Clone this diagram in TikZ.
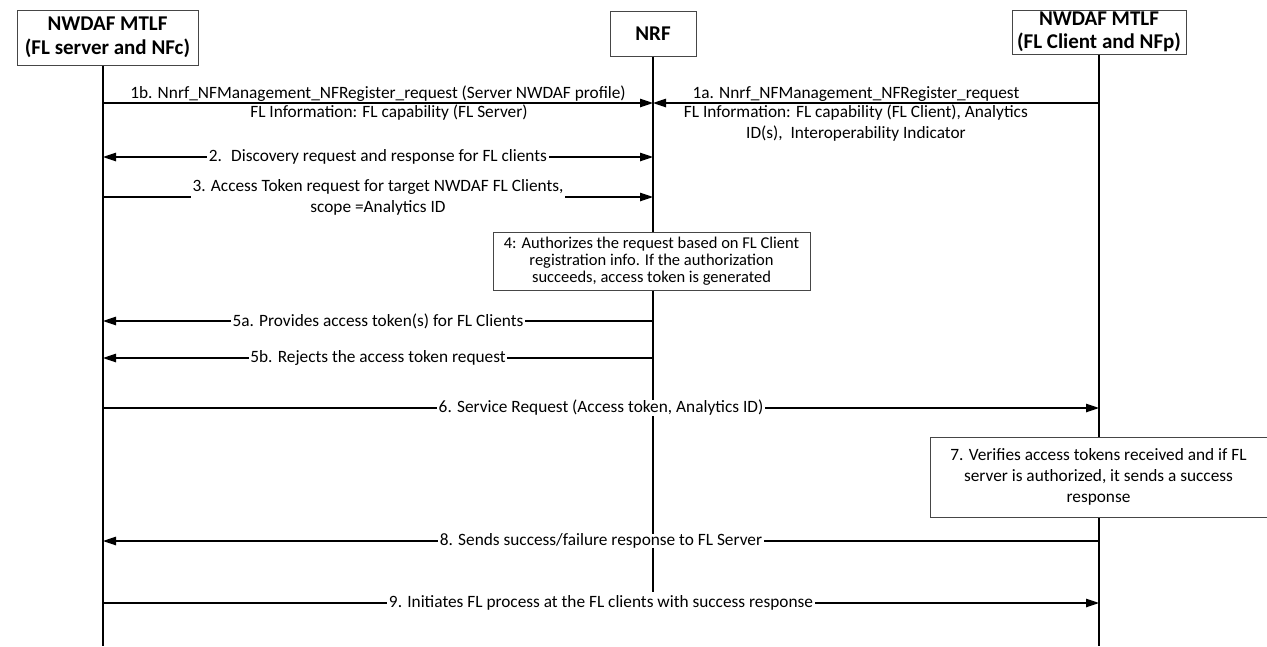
\documentclass[tikz,border=0pt]{standalone}
\usepackage{fontspec}
\setmainfont{Carlito}
\usetikzlibrary{arrows.meta}
\definecolor{boxgray}{RGB}{70,70,70}
\begin{document}
\begin{tikzpicture}[x=1pt,y=-1pt,
  head/.style={draw=boxgray, line width=1pt, fill=white, align=center,
    font=\fontsize{21}{23.5}\selectfont\bfseries, inner sep=0pt},
  life/.style={line width=1.2pt},
  msg/.style={line width=1.2pt, -{Triangle[length=13pt,width=8.5pt]}},
  bmsg/.style={line width=1.2pt, {Triangle[length=13pt,width=8.5pt]}-{Triangle[length=13pt,width=8.5pt]}},
  lbl/.style={font=\fontsize{17.3}{21}\selectfont, fill=white, inner xsep=1.5pt, inner ysep=0pt, align=center},
  tx/.style={font=\fontsize{17.3}{21}\selectfont, inner sep=1.2pt, align=center},
  note/.style={draw=boxgray, line width=1pt, fill=white, align=center, inner sep=0pt}
]
\useasboundingbox (0,0) rectangle (1267,646);

% headers
\node[head, minimum width=181pt, minimum height=55pt] (hL) at (107.5,37.5) {NWDAF MTLF\\(FL server and NFc)};
\node[head, minimum width=86pt, minimum height=45pt] (hN) at (653,33.5) {NRF};
\node[head, minimum width=174pt, minimum height=44pt] (hR) at (1099,32) {NWDAF MTLF\\(FL Client and NFp)};

% lifeline ends
\coordinate (Lend) at (103,646);
\coordinate (Nend) at (653,592);
\coordinate (Rend) at (1099,646);
\draw[life] (hL.south -| Lend) -- (Lend);
\draw[life] (hN.south) -- (Nend);
\draw[life] (hR.south) -- (Rend);

% message anchor points
\coordinate (L1) at (103,103);  \coordinate (N1) at (653,103);  \coordinate (R1) at (1099,103);
\coordinate (L2) at (103,157);  \coordinate (N2) at (653,157);
\coordinate (L3) at (103,197);  \coordinate (N3) at (653,197);
\coordinate (L5a) at (103,321); \coordinate (N5a) at (653,321);
\coordinate (L5b) at (103,358); \coordinate (N5b) at (653,358);
\coordinate (L6) at (103,408);  \coordinate (R6) at (1099,408);
\coordinate (L8) at (103,541);  \coordinate (R8) at (1099,541);
\coordinate (L9) at (103,603);  \coordinate (R9) at (1099,603);

% messages
\draw[msg] (L1) -- node[tx, above, pos=.5]{1b. Nnrf\_NFManagement\_NFRegister\_request (Server NWDAF profile)}
  node[tx, below, pos=.52]{FL Information: FL capability (FL Server)} (N1);
\draw[msg] (R1) -- node[tx, above, pos=.545]{1a. Nnrf\_NFManagement\_NFRegister\_request}
  node[tx, below, pos=.545]{FL Information: FL capability (FL Client), Analytics\\ID(s),~ Interoperability Indicator} (N1);
\draw[bmsg] (L2) -- node[lbl]{2.~ Discovery request and response for FL clients} (N2);
\draw[msg] (L3) -- node[lbl]{3. Access Token request for target NWDAF FL Clients,\\scope =Analytics ID} (N3);

\node[note, font=\fontsize{16.5}{17}\selectfont, minimum width=317pt, minimum height=58pt] (n4) at (651.5,261)
  {4: Authorizes the request based on FL Client\\registration info. If the authorization\\succeeds, access token is generated};

\draw[msg] (N5a) -- node[lbl]{5a. Provides access token(s) for FL Clients} (L5a);
\draw[msg] (N5b) -- node[lbl]{5b. Rejects the access token request} (L5b);
\draw[msg] (L6) -- node[lbl]{6. Service Request (Access token, Analytics ID)} (R6);

\node[note, font=\fontsize{17.3}{21}\selectfont, minimum width=337pt, minimum height=80pt] (n7) at (1098.5,477)
  {7. Verifies access tokens received and if FL\\server is authorized, it sends a success\\response};

\draw[msg] (R8) -- node[lbl]{8. Sends success/failure response to FL Server} (L8);
\draw[msg] (L9) -- node[lbl]{9. Initiates FL process at the FL clients with success response} (R9);
\end{tikzpicture}
\end{document}
